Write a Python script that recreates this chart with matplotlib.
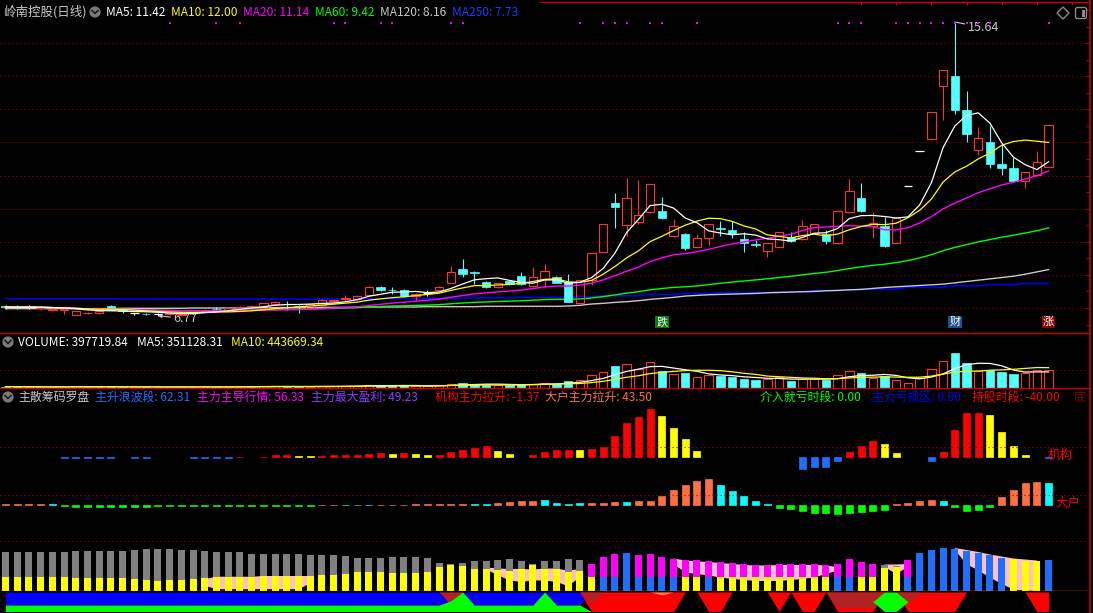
import numpy as np
import pandas as pd
import matplotlib
matplotlib.use('Agg')
import matplotlib.pyplot as plt
import matplotlib.transforms as mtransforms
from matplotlib.patches import Rectangle, Circle, FancyBboxPatch, Polygon

FONT = ['Noto Sans CJK SC', 'DejaVu Sans']
plt.rcParams['font.family'] = FONT

# ---------------- data ----------------
opens = [7.05,7.04,7.03,6.99,6.94,6.95,6.80,6.84,6.85,7.06,
 6.93,6.84,6.83,6.82,6.83,6.80,6.84,6.90,6.97,6.94,
 6.99,7.03,7.00,7.11,7.13,7.07,7.00,7.08,7.22,7.28,
 7.26,7.40,7.63,7.55,7.54,7.35,7.45,7.54,7.76,8.19,
 8.08,7.79,7.63,7.82,7.98,7.66,7.87,7.94,7.79,7.16,
 7.86,8.70,10.18,9.50,9.60,9.91,9.93,9.18,9.25,8.83,
 9.10,9.42,9.35,9.07,8.92,8.73,8.85,9.13,9.07,9.27,
 9.23,8.95,9.91,10.31,9.47,9.47,8.95,10.69,11.73,12.10,
 13.72,14.01,12.98,11.77,12.01,11.34,11.22,10.85,11.02,11.27]
highs = [7.10,7.08,7.08,7.06,7.00,7.00,6.92,6.88,6.92,7.08,
 6.98,6.86,6.86,6.86,6.86,6.85,6.86,6.97,7.03,7.02,
 7.06,7.08,7.16,7.20,7.20,7.10,7.13,7.26,7.27,7.40,
 7.38,7.66,7.66,7.63,7.56,7.45,7.54,7.65,8.28,8.49,
 8.12,7.82,7.76,7.84,8.10,8.24,8.33,7.98,8.02,7.86,
 8.65,9.53,10.48,10.94,10.86,10.76,10.34,9.70,9.28,9.25,
 9.55,9.62,9.63,9.30,9.05,8.97,9.31,9.30,9.66,9.55,
 9.35,9.95,10.89,10.78,9.91,9.76,9.71,10.69,11.73,12.91,
 14.19,15.64,13.56,12.46,12.50,11.95,11.57,11.12,11.74,12.52]
lows = [6.98,6.98,6.98,6.95,6.92,6.83,6.78,6.82,6.83,6.93,
 6.84,6.80,6.79,6.77,6.80,6.78,6.82,6.88,6.90,6.92,
 6.97,6.94,6.98,7.08,6.95,6.85,6.98,7.06,7.17,7.22,
 7.24,7.38,7.52,7.43,7.34,7.20,7.35,7.52,7.74,7.94,
 7.71,7.60,7.60,7.68,7.69,7.64,7.60,7.74,7.19,7.14,
 7.69,8.68,9.43,9.17,9.55,9.88,9.70,9.15,8.76,8.80,
 8.90,9.17,9.10,8.70,8.85,8.53,8.83,9.00,9.05,9.25,
 8.93,8.93,9.88,9.90,9.10,8.85,8.95,10.69,11.73,12.06,
 12.68,12.85,12.02,11.62,11.22,11.02,10.82,10.62,11.00,11.25]
closes = [7.03,7.02,7.03,7.01,6.97,6.97,6.90,6.86,6.90,6.95,
 6.92,6.84,6.82,6.82,6.84,6.83,6.84,6.95,6.96,7.00,
 7.04,7.05,7.14,7.18,7.11,7.05,7.11,7.24,7.24,7.30,
 7.36,7.63,7.54,7.54,7.36,7.43,7.45,7.63,8.08,8.03,
 8.06,7.63,7.74,7.71,7.71,7.95,8.12,7.76,7.19,7.86,
 8.65,9.53,10.06,10.31,9.81,10.76,9.73,9.49,8.80,9.10,
 9.53,9.40,9.23,8.95,8.90,8.95,9.29,9.03,9.49,9.53,
 9.03,9.93,10.53,9.93,9.56,8.87,9.71,10.69,11.73,12.91,
 14.19,12.98,12.27,12.13,11.34,11.22,10.83,11.12,11.40,12.52]
ma120 = [6.98,6.98,6.98,6.98,6.98,6.98,6.98,6.98,6.98,6.98,
 6.99,6.99,6.99,6.99,6.99,6.99,7.00,7.00,7.00,7.00,
 7.00,7.00,7.01,7.01,7.01,7.01,7.01,7.02,7.02,7.02,
 7.02,7.03,7.03,7.03,7.03,7.03,7.04,7.04,7.04,7.04,
 7.04,7.05,7.05,7.05,7.05,7.05,7.05,7.05,7.06,7.08,
 7.12,7.14,7.17,7.19,7.22,7.26,7.29,7.32,7.36,7.38,
 7.40,7.41,7.42,7.43,7.44,7.46,7.47,7.48,7.49,7.50,
 7.52,7.53,7.55,7.56,7.59,7.62,7.64,7.66,7.68,7.70,
 7.72,7.76,7.80,7.84,7.88,7.92,7.96,8.02,8.09,8.16]
ma250 = [7.29,7.28,7.28,7.28,7.28,7.28,7.28,7.28,7.28,7.28,
 7.27,7.27,7.27,7.27,7.27,7.27,7.27,7.27,7.27,7.27,
 7.27,7.27,7.27,7.27,7.27,7.27,7.27,7.27,7.27,7.28,
 7.28,7.28,7.28,7.28,7.29,7.29,7.29,7.29,7.30,7.30,
 7.30,7.31,7.31,7.31,7.32,7.32,7.32,7.33,7.33,7.34,
 7.34,7.37,7.37,7.37,7.37,7.41,7.41,7.41,7.44,7.44,
 7.44,7.47,7.47,7.47,7.47,7.47,7.47,7.49,7.49,7.53,
 7.53,7.53,7.53,7.57,7.57,7.57,7.57,7.63,7.63,7.63,
 7.63,7.67,7.67,7.67,7.71,7.71,7.71,7.74,7.74,7.74]
volumes_k = [30,25,20,22,18,25,35,20,22,30,
 25,20,18,22,20,25,20,28,22,25,
 28,30,45,40,30,25,30,45,38,42,
 45,70,55,45,60,40,35,55,95,110,
 85,70,60,65,80,95,110,90,150,180,
 280,350,480,520,420,560,380,300,330,250,
 280,260,230,200,180,190,240,160,200,190,
 170,290,380,330,220,260,180,120,220,420,
 600,760,540,380,400,340,300,320,398,397.72]
signal_dots = [14,18,20,28,29,32,33,38,39,49,51,52,53,55,56,59,71,72,73,
               76,77,78,79,80,81,82,83,84,89]
tag_idx = [56, 81, 89]
tag_txt = ['跌', '财', '涨']

jg_vals = [0,0,0,0,0,-2,-2,-2,-1,-1,
 0,-1,-1,0,0,0,-1,-1,-1,-1,
 1,0,1,3.6,3.6,1.4,1.4,1.4,3.6,3.6,
 3.6,5.8,7.8,5.8,7.8,5.8,3.6,3.6,10,14,
 18.6,21.4,12,5.8,0,3.6,10,14,13.6,13.6,
 15.6,19.8,42,68,80,97,83,58,36,11.6,
 0,0,0,0,0,0,0,0,-24.4,-19,
 -19,-7,9.6,21.8,32,25.8,7.4,0,0,-8.8,
 9.6,54,89,89,85,50,21.8,3.4,0,-1.37]
jg_cols = "-----bbbbb-bb---bbbbr-rrryyrrrrrryryyrrrrryy-rrrryrrrrrryyyy--------bbbbrrryy--brrrryyyy-b"
dh_vals = [2,2,2,2,2,-1,-3,-3,-3,-3,
 -3,-3,-3,-1,-1,-1,-1,-1,-1,-1,
 -1,-1,-1,-1,-1,-1,-1,1,1,1,
 1,1,1,1,1,3,3,3,3,3,
 3,3,5,7,9,9,11,5,3,3.4,
 4.8,4.8,6.8,6.8,8.8,8.8,19,31,41,47.6,
 52,41,29,19,8.8,2.8,-5.4,-7.4,-11.6,-15.6,
 -15.6,-17.6,-15.6,-13.6,-11.6,-9.6,2.8,4.8,8.8,10.8,
 8.8,-3.4,-11.6,-9.6,-3.4,17,31,43.6,45.6,43.5]
dh_cols = "ooooc" + "g"*22 + "oococ" + "o"*8 + "cc" + "oooo" + "cccc" + "oooc" + "o"*7 + "ccccc" + "g"*10 + "ooooc" + "gggg" + "ooooc"

bar_total = [77.1,77.1,77.1,77.1,77.1,77.1,79.3,79.3,79.3,79.3,
 79.3,81.4,83.6,83.6,83.6,81.4,81.4,79.3,77.1,77.1,
 77.1,75.0,75.0,75.0,75.0,75.0,72.9,72.9,72.9,70.7,
 66.4,66.4,66.4,68.6,68.6,68.6,66.4,55.7,53.6,55.7,
 60.0,60.0,62.1,64.3,60.0,53.6,60.0,60.0,63.2,61.2,
 53.0,67.3,73.4,75.5,71.4,73.4,67.3,63.2,61.2,61.2,
 59.2,57.1,55.1,53.0,51.0,51.0,53.0,53.0,53.0,53.0,
 51.0,53.0,63.2,57.1,53.0,53.0,51.0,61.2,75.5,81.6,
 85.7,83.6,79.6,75.5,71.4,65.3,63.2,59.2,59.2,62.31]
bar_low = [27.9,27.9,27.9,27.9,27.9,27.9,25.7,25.7,25.7,25.7,
 25.7,23.6,21.4,19.3,21.4,21.4,23.6,25.7,27.9,27.9,
 27.9,27.9,30.0,30.0,30.0,30.0,30.0,32.1,32.1,34.3,
 38.6,38.6,38.6,36.4,36.4,36.4,38.6,47.1,51.4,49.3,
 45.0,45.0,42.9,40.7,45.0,51.4,45.0,45.0,37.4,39.4,
 28.6,28.6,28.6,75.5,28.6,28.6,28.6,28.6,28.6,28.6,
 28.6,28.6,28.6,28.6,28.6,28.6,28.6,28.6,28.6,28.6,
 28.6,28.6,28.6,28.6,28.6,46.9,49.0,28.6,75.5,81.6,
 85.7,83.6,79.6,75.5,71.4,65.3,63.2,59.2,59.2,62.31]
bar_low_col = "y"*50 + "ybbbbbbbyyb" + "y"*10 + "bb" + "yyyy" + "b"*9 + "yyy" + "b"
bar_top_col = "g"*50 + "mmm-" + "m"*21 + "ggm" + "-"*12

nan = np.nan
pink_hi = [nan]*17 + [23.6,28.6,28.6,28.6,28.6,30,30,30,30,30] + [nan]*14 + \
    [47,45,44,44,43,45,45,40.8,44] + [nan]*7 + \
    [65,61,59,58,56,54,52,51,51,52,52,52,52,51,48] + [nan]*3 + [53,53,54] + [nan]*3 + \
    [86,82,78,73,69,65,63,61] + [nan]
pink_lo = [nan]*17 + [10.7,3.6,3.6,3.6,3.6,3.6,3.6,3.6,3.6,15] + [nan]*14 + \
    [42.9,32,21,18,21,21,18,10,27] + [nan]*7 + \
    [54,37,34,31,27,24,22,20,20,20,22,24,27,34,41] + [nan]*3 + [48,34,48] + [nan]*3 + \
    [82,54,41,27,14,3,1,0] + [nan]

strip_blue = [1]*50 + [0]*40
strip_green = [0.33]*38 + [0.55, 1.0] + [0.33]*6 + [1.0] + [0.33]*3 + [0]*40
strip_red = [0]*50 + [1]*8 + [0,0,1,1,0,0,0,0,1,0,1,1,0,1,1,1,1,0,0,1,1,1,1,1,0,0,0,0,0,0,1,1]
strip_dark = [0]*38 + [0.67] + [0]*11 + [0.6] + [0]*20 + [0.8]*4 + [0,0,0.6] + [0]*12
strip_coral = [0]*56 + [0.15] + [0]*33
strip_hex = [0]*75 + [1, 1] + [0]*13

N = len(closes)

# ---------------- colours ----------------
RED = '#FF3232'
CYAN = '#54FFFF'
GRID = '#A00000'
BORDER = '#C80000'
BLUE_BAR = '#1E6EFF'
cmap_jg = {'r': '#FF0000', 'y': '#FFFF00', 'b': BLUE_BAR}
cmap_dh = {'o': '#FF7043', 'c': '#00FFFF', 'g': '#00FF00'}
cmap_bar = {'y': '#FFFF00', 'b': BLUE_BAR, 'm': '#FF00FF', 'g': '#808080'}

# ---------------- layout ----------------
W, H = 1093, 613
fig = plt.figure(figsize=(W / 100, H / 100), dpi=100, facecolor='black')
X0, DX = 5.5, 11.72
XR = 1090
xlim = (-X0 / DX, (XR - X0) / DX)


def ax_px(y0, y1, x0=0, x1=XR):
    a = fig.add_axes([x0 / W, 1 - y1 / H, (x1 - x0) / W, (y1 - y0) / H])
    a.set_facecolor('none')
    a.set_xlim(*xlim)
    a.set_axis_off()
    return a


P_TOP, P_SCALE = 15.64, 33.1   # price at y=22 px, px per yuan
ax1 = ax_px(2, 333)
ax1.set_ylim(P_TOP - (333 - 22) / P_SCALE, P_TOP + 20 / P_SCALE)
ax_v = ax_px(333, 388)
ax_v.set_ylim(0, 1.2e6)
ax_jg = ax_px(405, 490)
ax_jg.set_ylim(-66, 104)
ax_dh = ax_px(470, 540)
ax_dh.set_ylim(-70, 70)
ax_b = ax_px(530, 591)
ax_b.set_ylim(0, 122)
ax_s = ax_px(592, 611.5)
ax_s.set_ylim(0, 1)

x = np.arange(N)
dots = (0, (1, 2.6))

# ---------------- price panel ----------------
for p in range(7, 16):
    ax1.axhline(p, color=GRID, lw=0.8, ls=dots, zorder=1)

cw = 0.72
for i in range(N):
    o, h, l, c = opens[i], highs[i], lows[i], closes[i]
    if c > o:
        ax1.add_patch(Rectangle((i - cw / 2, o), cw, c - o, fill=False, ec=RED, lw=0.8, zorder=4))
        ax1.vlines(i, c, h, color=RED, lw=0.8, zorder=4)
        ax1.vlines(i, l, o, color=RED, lw=0.8, zorder=4)
    elif c < o:
        ax1.add_patch(Rectangle((i - cw / 2, c), cw, o - c, fc=CYAN, ec=CYAN, lw=0.5, zorder=4))
        ax1.vlines(i, l, h, color=CYAN, lw=0.8, zorder=4)
    else:
        ax1.hlines(o, i - cw / 2, i + cw / 2, color='white', lw=0.9, zorder=4)
        ax1.vlines(i, l, h, color='white', lw=0.8, zorder=4)

cs = pd.Series(closes)
ma5 = cs.rolling(5, min_periods=1).mean()
ma10 = cs.rolling(10, min_periods=1).mean()
ma20 = cs.rolling(20, min_periods=1).mean()
ma60 = cs.rolling(60, min_periods=1).mean()
ax1.plot(x, ma250, color='#0000FF', lw=1.1, zorder=3)
ax1.plot(x, ma120, color='#C8C8C8', lw=1.0, zorder=3)
ax1.plot(x, ma60, color='#00FF00', lw=1.0, zorder=3)
ax1.plot(x, ma20, color='#FF00FF', lw=1.0, zorder=5)
ax1.plot(x, ma10, color='#FFFF00', lw=0.9, zorder=5)
ax1.plot(x, ma5, color='white', lw=0.9, zorder=5)

bt = mtransforms.blended_transform_factory(ax1.transData, ax1.transAxes)
ax1.scatter(signal_dots, [0.936] * len(signal_dots), s=3, marker='s', color='#FF00FF',
            transform=bt, zorder=6, linewidths=0)

tag_bg = ['#0A7A0A', '#1F4E8C', '#8B0000']
for k, (ti, tt) in enumerate(zip(tag_idx, tag_txt)):
    ax1.text(ti, 0.018, tt, transform=bt, color='white', fontsize=8, ha='center', va='bottom',
             bbox=dict(boxstyle='square,pad=0.12', fc=tag_bg[k], ec='none'), zorder=7)

ih = int(np.argmax(highs))
ax1.annotate(f'{highs[ih]:.2f}', xy=(ih, highs[ih]), xytext=(ih + 1.1, highs[ih] - 0.17),
             color='#C8C8C8', fontsize=9, va='center', ha='left',
             arrowprops=dict(arrowstyle='-', color='#C8C8C8', lw=0.8, shrinkA=0, shrinkB=0))
il = int(np.argmin(lows))
ax1.annotate(f'{lows[il]:.2f}', xy=(il, lows[il]), xytext=(il + 1.3, lows[il] - 0.1),
             color='#C8C8C8', fontsize=9, va='center', ha='left',
             arrowprops=dict(arrowstyle='-|>', color='#C8C8C8', lw=0.8, mutation_scale=5,
                             shrinkA=0, shrinkB=0))

# right-axis ticks and top ticks
bty = mtransforms.blended_transform_factory(ax1.transAxes, ax1.transData)
ax1.hlines(np.arange(6.5, 16.1, 0.5), 0.996, 1.0, transform=bty, color=BORDER, lw=0.8)
top_ticks = [73, 76, 79, 82, 85, 88, 91]
ax1.vlines(top_ticks, 0.99, 1.0, transform=bt, color=BORDER, lw=0.8)

# ---------------- volume panel ----------------
vols = np.array(volumes_k) * 1000.0
ax_v.axhline(4e5, color=GRID, lw=0.8, ls=dots, zorder=1)
for i in range(N):
    v = vols[i]
    if closes[i] >= opens[i]:
        ax_v.add_patch(Rectangle((i - cw / 2, 0), cw, v, fill=False, ec=RED, lw=0.8, zorder=3))
    else:
        ax_v.add_patch(Rectangle((i - cw / 2, 0), cw, v, fc=CYAN, ec=CYAN, lw=0.5, zorder=3))
vs = pd.Series(vols)
ax_v.plot(x, vs.rolling(5, min_periods=1).mean(), color='white', lw=0.9, zorder=4)
ax_v.plot(x, vs.rolling(10, min_periods=1).mean(), color='#FFFF00', lw=0.9, zorder=4)

# ---------------- indicator panel ----------------
bw = 0.6
ax_jg.axhline(20, color=GRID, lw=0.8, ls=dots)
for i in range(N):
    if jg_cols[i] != '-':
        c = cmap_jg[jg_cols[i]]
        ax_jg.bar(i, jg_vals[i], width=bw, color=c, edgecolor=c, linewidth=0.5)
ax_dh.axhline(20, color=GRID, lw=0.8, ls=dots)
for i in range(N):
    c = cmap_dh[dh_cols[i]]
    ax_dh.bar(i, dh_vals[i], width=bw, color=c, edgecolor=c, linewidth=0.5)

ax_b.axhline(100, color=GRID, lw=0.8, ls=dots)
ax_b.fill_between(x, pink_lo, pink_hi, color='#FFC0CB', lw=0, zorder=1)
for i in range(N):
    ax_b.bar(i, bar_low[i], width=bw, color=cmap_bar[bar_low_col[i]], lw=0, zorder=2)
    if bar_top_col[i] != '-':
        ax_b.bar(i, bar_total[i] - bar_low[i], bottom=bar_low[i], width=bw,
                 color=cmap_bar[bar_top_col[i]], lw=0, zorder=2)
ax_b.axhline(0, color='#FF7F00', lw=1.0, zorder=3)

sb, sg = np.array(strip_blue, float), np.array(strip_green, float)
sr, sd = np.array(strip_red, float), np.array(strip_dark, float)
sc, sx = np.array(strip_coral, float), np.array(strip_hex, float)
ax_s.fill_between(x, 1 - 0.67 * sb, 1, color='#0000FF', lw=0)
ax_s.fill_between(x, 1 - sr, 1, color='#FF0000', lw=0)
ax_s.fill_between(x, 1 - sd, 1, color='#B22222', lw=0)
ax_s.fill_between(x, 1 - sc, 1, color='#FF7F50', lw=0)
ax_s.fill_between(x, 0, sg, color='#00FF00', lw=0)
ax_s.fill_between(x, 0.5 - 0.5 * sx, 0.5 + 0.5 * sx, color='#00FF00', lw=0)

# ---------------- overlay: borders, texts, icons ----------------
ov = fig.add_axes([0, 0, 1, 1])
ov.set_xlim(0, W)
ov.set_ylim(H, 0)
ov.set_axis_off()
ov.set_facecolor('none')
ov.add_patch(Rectangle((XR, 0), W - XR, H, fc='black', ec='none', zorder=5))
for yy in (333, 388):
    ov.plot([0, XR], [yy, yy], color=BORDER, lw=1.0, zorder=6)
ov.plot([XR, XR], [0, H], color=BORDER, lw=1.2, zorder=6)
ov.plot([540, XR], [2, 2], color=BORDER, lw=1.0, zorder=6)


def icon(cx, cy):
    ov.add_patch(Circle((cx, cy), 5.6, fc='#7A7A7A', ec='none', zorder=6))
    ov.plot([cx - 3, cx, cx + 3], [cy - 1.5, cy + 1.5, cy - 1.5], color='#1A1A1A', lw=1.1, zorder=7)


icon(95, 12)
icon(8, 342)
icon(8, 397)


def t(xp, yp, s, c, fs=8.6):
    ov.text(xp, yp, s, color=c, fontsize=fs, ha='left', va='center', zorder=4)


t(3, 12, '岭南控股(日线)', '#C8C8C8', 9)
t(106, 12, 'MA5: 11.42', '#FFFFFF')
t(171, 12, 'MA10: 12.00', '#FFFF00')
t(243, 12, 'MA20: 11.14', '#FF00FF')
t(315, 12, 'MA60: 9.42', '#00FF00')
t(380, 12, 'MA120: 8.16', '#C8C8C8')
t(452, 12, 'MA250: 7.73', '#1E3CFF')

t(18, 342, 'VOLUME: 397719.84', '#FFFFFF')
t(137, 342, 'MA5: 351128.31', '#FFFFFF')
t(231, 342, 'MA10: 443669.34', '#FFFF00')

t(18, 397.5, '主散筹码罗盘', '#C8C8C8')
t(95, 397.5, '主升浪波段: 62.31', '#1E6EFF')
t(197, 397.5, '主力主导行情: 56.33', '#FF00FF')
t(311, 397.5, '主力最大盈利: 49.23', '#8A3CFF')
t(435, 397.5, '机构主力拉升: -1.37', '#FF0000')
t(545, 397.5, '大户主力拉升: 43.50', '#FF7043')
t(760, 397.5, '介入就亏时段: 0.00', '#00FF00')
t(872, 397.5, '主力亏损区: 0.00', '#0000FF')
t(972, 397.5, '持股时段: -40.00', '#FF0000')
t(1074, 397.5, '底', '#8B0000')

t(1048, 455, '机构', '#FF0000', 9)
t(1055, 503, '大户', '#FF0000', 9)

ov.add_patch(Polygon([[1063, 7], [1069, 13], [1063, 19], [1057, 13]], closed=True,
                     fill=False, ec='#8A8A8A', lw=1.0, zorder=6))
ov.add_patch(FancyBboxPatch((1075.5, 7.5), 11, 11, boxstyle='round,pad=0,rounding_size=2',
                            fill=False, ec='#8A8A8A', lw=1.0, zorder=6))
ov.add_patch(Rectangle((1081.5, 9.5), 3, 7, fc='#8A8A8A', ec='none', zorder=6))

fig.savefig('out.png', dpi=100, facecolor='black')
